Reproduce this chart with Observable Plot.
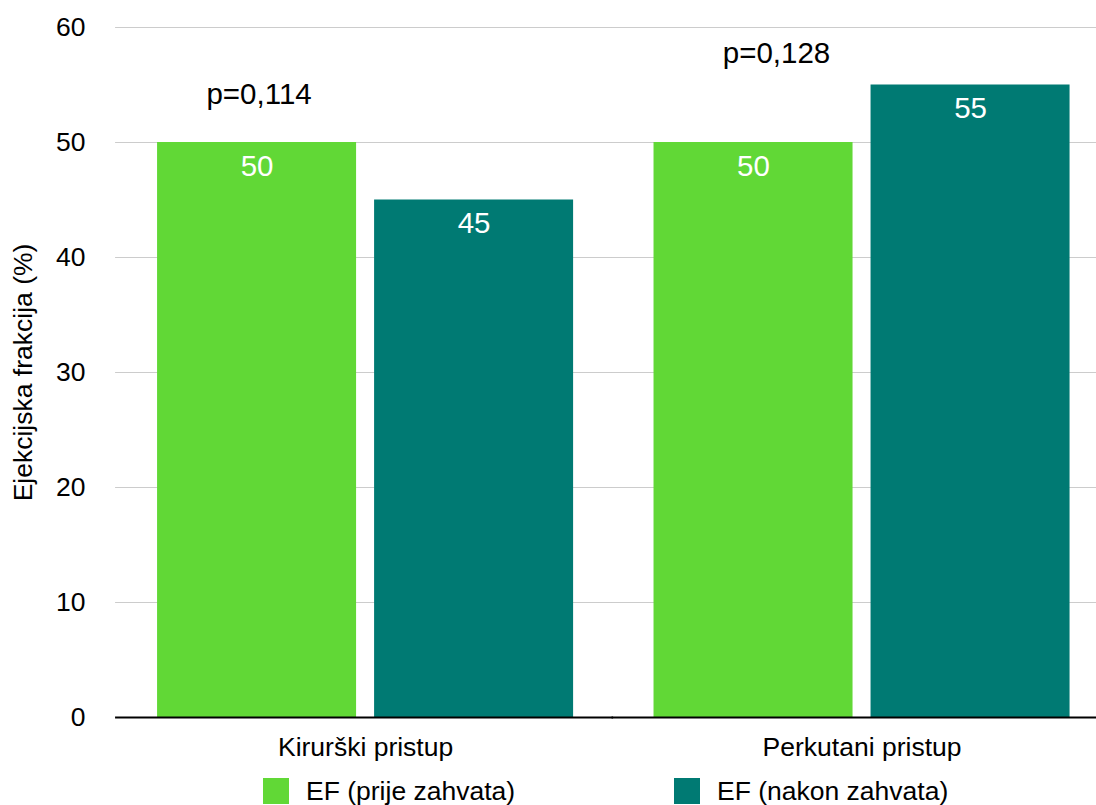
<!DOCTYPE html>
<html>
<head>
<meta charset="utf-8">
<script src="https://cdn.jsdelivr.net/npm/d3@7"></script>
<script src="https://cdn.jsdelivr.net/npm/@observablehq/plot@0.6"></script>
<style>
  body { margin: 0; background: #fff; font-family: "Liberation Sans", Arial, sans-serif; overflow: hidden; }
  #legend { position: relative; height: 27px; margin-top: 13px; }
  .item { position: absolute; top: 0; display: flex; align-items: center; font-size: 26.5px; line-height: 26px; color: #000; white-space: nowrap; }
  .sw { width: 26px; height: 26px; margin-right: 17px; }
</style>
</head>
<body>
<div id="chart"></div>
<div id="legend"></div>
<script>
const groups = ["Kirurški pristup", "Perkutani pristup"];
const series = ["EF (prije zahvata)", "EF (nakon zahvata)"];
const prije = [50, 50];
const nakon = [45, 55];
const colors = ["#61d836", "#007a73"];
const yTicks = [0, 10, 20, 30, 40, 50, 60];
const pTexts = ["p=0,114", "p=0,128"];
const pHeights = [54.2, 57.7];

const data = groups.flatMap((g, i) => [
  {group: g, series: series[0], value: prije[i]},
  {group: g, series: series[1], value: nakon[i]}
]);
const pData = groups.map((g, i) => ({group: g, series: series[0], text: pTexts[i], y: pHeights[i]}));

const plot = Plot.plot({
  width: 1096,
  height: 765,
  marginLeft: 115,
  marginRight: 0,
  marginTop: 27,
  marginBottom: 48,
  style: {fontFamily: "Liberation Sans, Arial, sans-serif", fontSize: "26.5px", color: "#000", background: "#fff"},
  fx: {domain: groups, paddingInner: 0.162, paddingOuter: 0.069, align: 0.614, round: false, label: null, axis: "bottom", tickSize: 0, tickPadding: 20},
  x: {domain: series, paddingInner: 0.083, paddingOuter: 0, round: false, axis: null},
  y: {domain: [0, 60], ticks: yTicks, tickSize: 0, tickPadding: 72, label: "Ejekcijska frakcija (%)", labelAnchor: "center", labelOffset: 144, labelArrow: "none"},
  color: {domain: series, range: colors},
  marks: [
    Plot.ruleY(yTicks.slice(1), {stroke: "#cccccc", strokeWidth: 1, insetLeft: -42, insetRight: -40}),
    Plot.barY(data, {fx: "group", x: "series", y: "value", fill: "series"}),
    Plot.ruleY([0], {stroke: "#000", strokeWidth: 2, insetLeft: -42, insetRight: -40}),
    Plot.text(data, {fx: "group", x: "series", y: "value", text: d => String(d.value), fill: "white", dy: 24, lineAnchor: "middle", fontSize: 29.5}),
    Plot.text(pData.slice(0, 1), {fx: "group", x: "series", y: "y", text: "text", dx: 2, lineAnchor: "middle", fontSize: 29.5, fill: "#000"}),
    Plot.text(pData.slice(1, 2), {fx: "group", x: "series", y: "y", text: "text", dx: 23, lineAnchor: "middle", fontSize: 29.5, fill: "#000"})
  ]
});
document.getElementById("chart").appendChild(plot);

const legend = document.getElementById("legend");
const legendLefts = [263, 674];
series.forEach((s, i) => {
  const item = document.createElement("div");
  item.className = "item";
  item.style.left = legendLefts[i] + "px";
  const sw = document.createElement("span");
  sw.className = "sw";
  sw.style.background = colors[i];
  const t = document.createElement("span");
  t.textContent = s;
  item.appendChild(sw);
  item.appendChild(t);
  legend.appendChild(item);
});
</script>
</body>
</html>
